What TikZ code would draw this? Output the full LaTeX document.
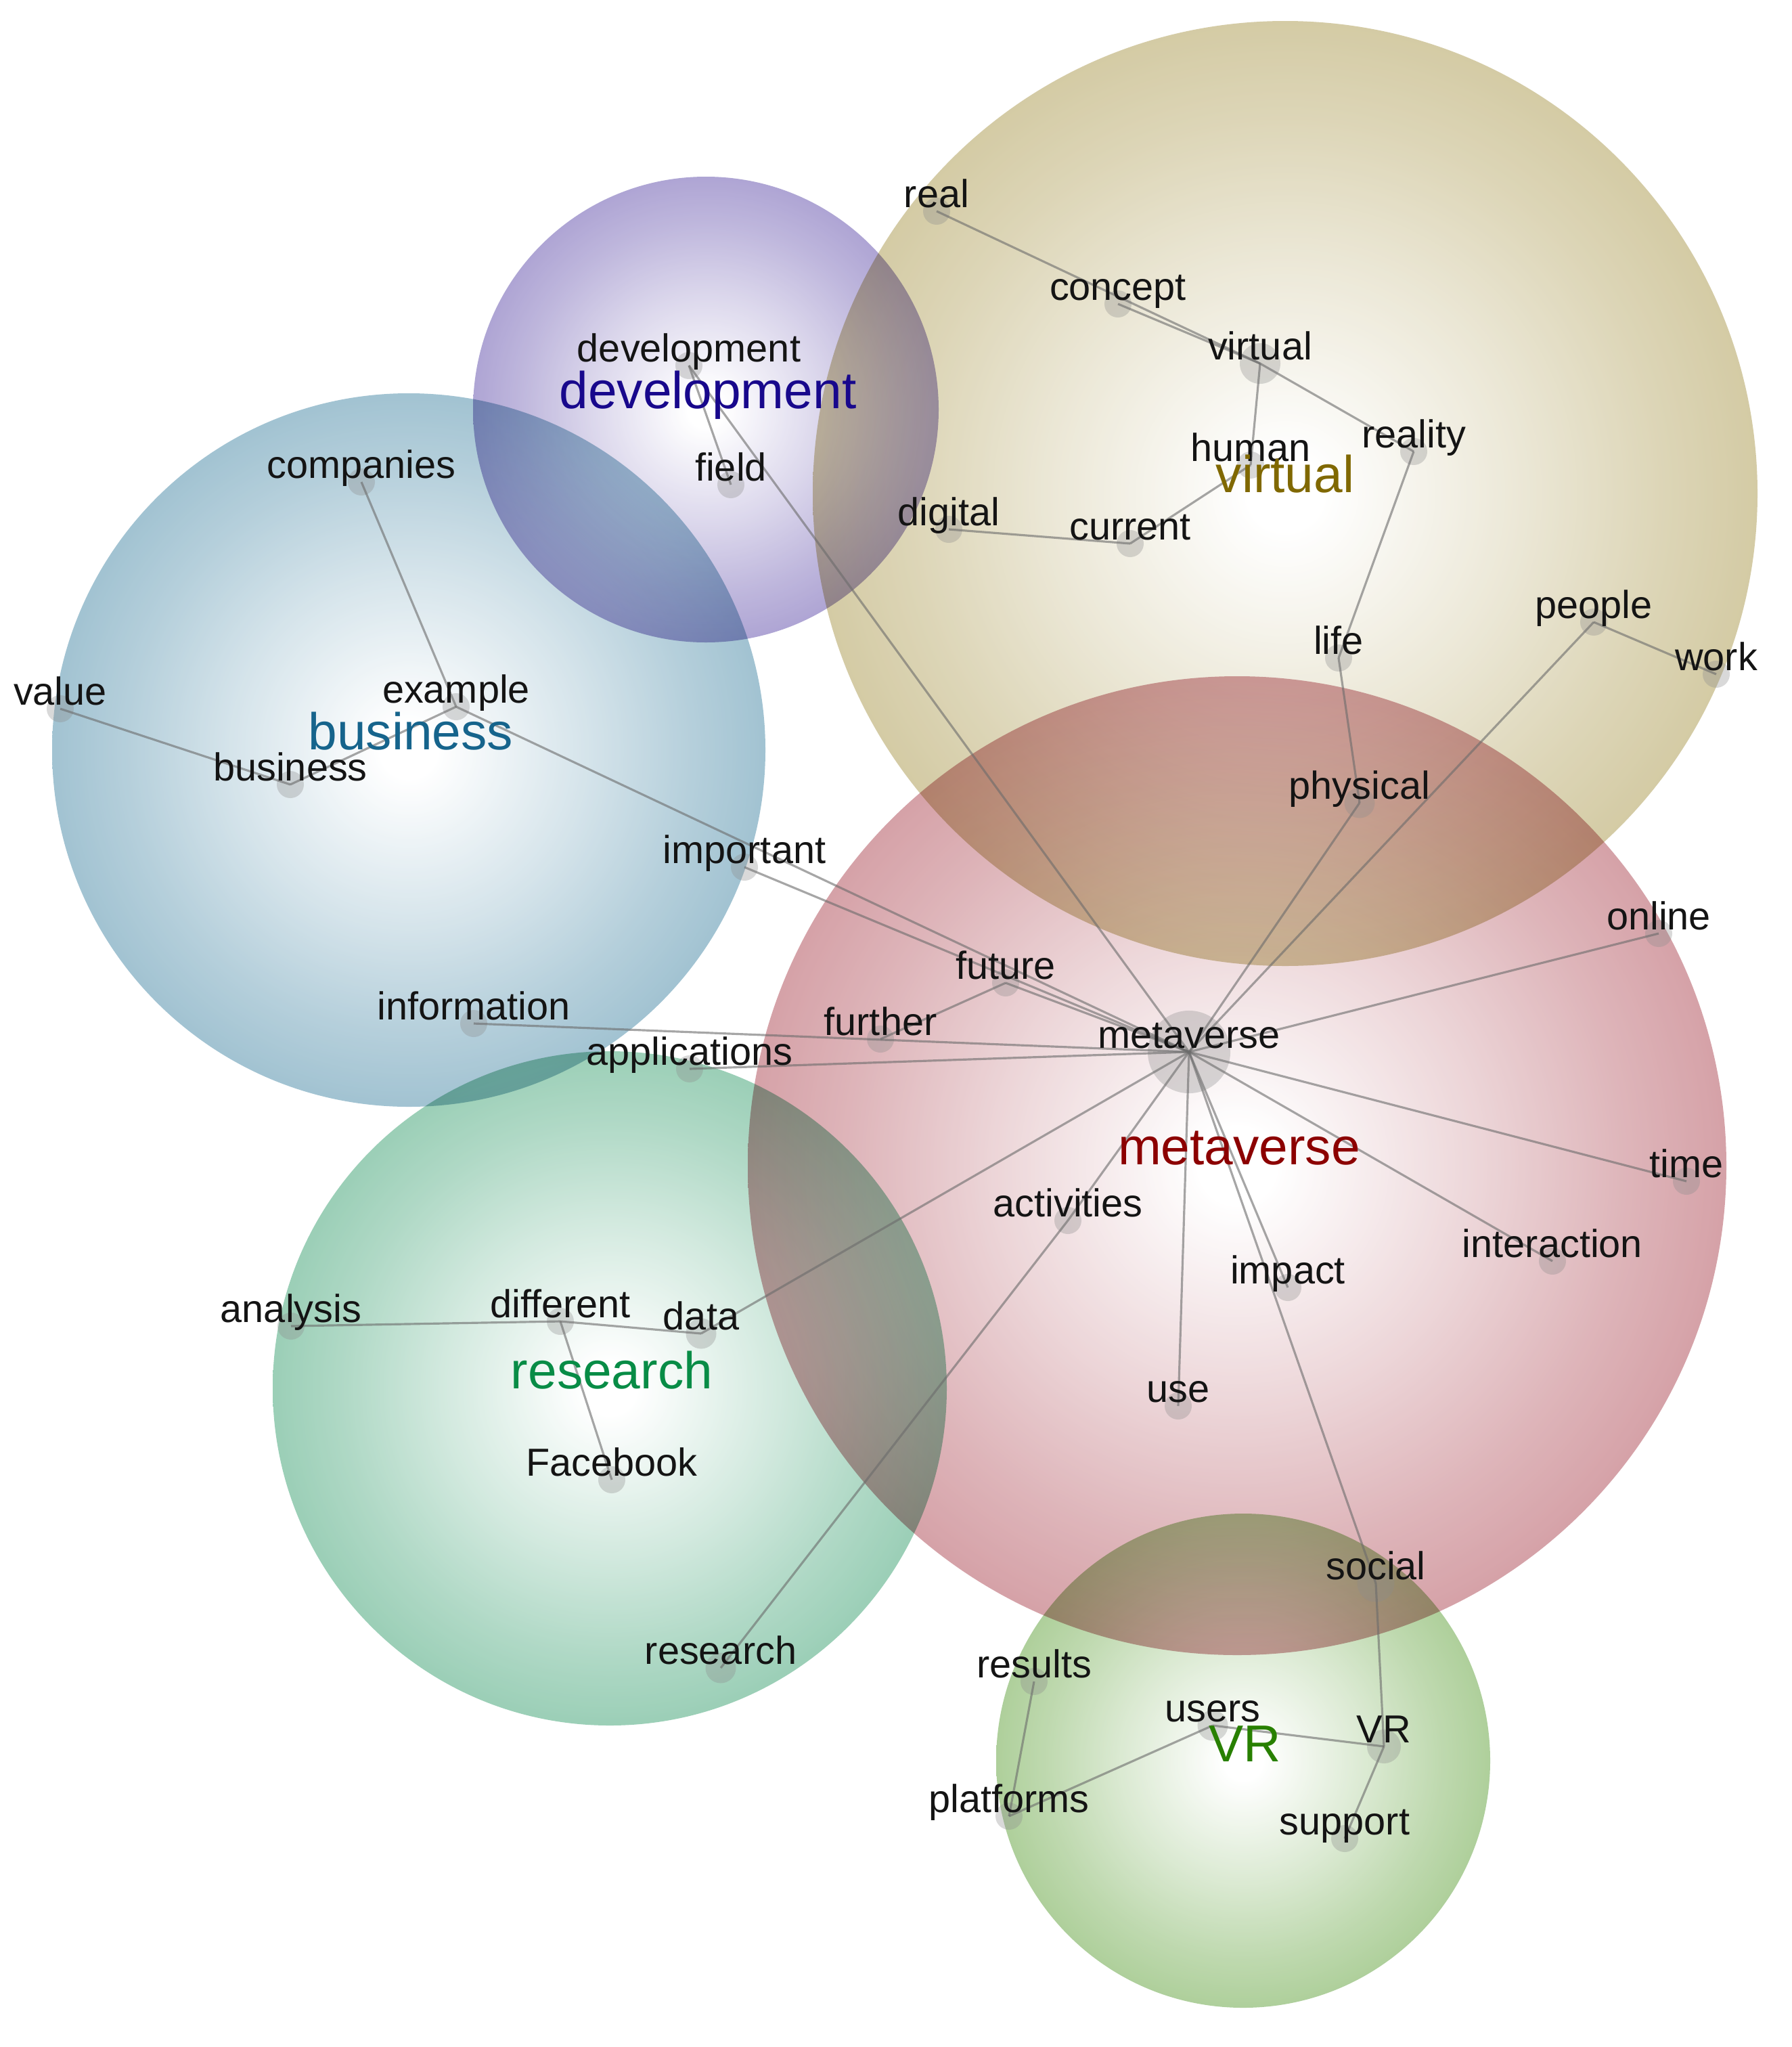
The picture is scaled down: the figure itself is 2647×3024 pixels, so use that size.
\documentclass[tikz,border=0pt]{standalone}
\usepackage{fontspec}
\setmainfont{Liberation Sans}
\definecolor{cvirt}{RGB}{198,186,135}
\definecolor{cdev}{RGB}{148,135,198}
\definecolor{cbus}{RGB}{131,175,195}
\definecolor{cmeta}{RGB}{200,131,139}
\definecolor{cres}{RGB}{122,191,159}
\definecolor{cvr}{RGB}{148,192,122}
\definecolor{tvirt}{RGB}{128,104,0}
\definecolor{tdev}{RGB}{24,8,140}
\definecolor{tbus}{RGB}{22,100,140}
\definecolor{tmeta}{RGB}{140,0,0}
\definecolor{tres}{RGB}{8,140,70}
\definecolor{tvr}{RGB}{40,128,0}
\newcommand{\mkshade}[2]{\pgfdeclareradialshading{#1}{\pgfpoint{0bp}{0bp}}{color(0bp)=(white); color(2bp)=(white); color(12.5bp)=(#2!45!white); color(20bp)=(#2!80!white); color(25bp)=(#2); color(50bp)=(#2)}}
\mkshade{shvirt}{cvirt}
\mkshade{shdev}{cdev}
\mkshade{shbus}{cbus}
\mkshade{shmeta}{cmeta}
\mkshade{shres}{cres}
\mkshade{shvr}{cvr}
\tikzset{
  dotnode/.style={circle, fill=black!45, fill opacity=0.33, draw=none, inner sep=0pt, minimum size=#1 cm},
  dotnode/.default=0.4,
  lbl/.style={anchor=base, inner sep=0pt, font=\fontsize{16.4}{18}\selectfont, text=black!92},
  biglbl/.style={anchor=base, inner sep=0pt, font=\fontsize{21.8}{24}\selectfont},
  link/.style={draw=black!58, draw opacity=0.6, line width=0.9pt},
  cluster/.style={blend mode=multiply, fill opacity=0.75}
}
\begin{document}
\begin{tikzpicture}[x=0.01cm, y=0.01cm]
\useasboundingbox (0,0) rectangle (2647,-3024);
\fill[white] (0,0) rectangle (2647,-3024);
% clusters
\shade[cluster, shading=shvirt] (1899,-729) circle (698);
\shade[cluster, shading=shdev] (1043,-605) circle (344);
\shade[cluster, shading=shbus] (604,-1108) circle (527);
\shade[cluster, shading=shmeta] (1828,-1722) circle (723);
\shade[cluster, shading=shres] (901,-2051) circle (498);
\shade[cluster, shading=shvr] (1837,-2601) circle (365);
% dots
\foreach \n/\x/\y/\s in {
  real/1384/312/0.4, concept/1652/449/0.4, virtual/1862/537/0.6, reality/2089/667/0.4,
  human/1848/687/0.4, current/1670/803/0.4, digital/1402/782/0.4, life/1978/972/0.4,
  people/2355/919/0.4, work/2536/996/0.4, physical/2009/1186/0.45,
  development/1018/540/0.4, field/1080/716/0.4,
  companies/534/712/0.4, example/674/1044/0.4, value/89/1047/0.4, business/429/1159/0.4,
  important/1100/1281/0.4, future/1486/1452/0.4, further/1301/1535/0.4,
  information/700/1512/0.4, applications/1019/1579/0.4, metaverse/1757/1554/1.22,
  online/2451/1379/0.4, time/2492/1745/0.4, interaction/2294/1863/0.4,
  activities/1578/1803/0.4, impact/1903/1902/0.4, use/1741/2077/0.4,
  analysis/430/1959/0.4, different/828/1952/0.4, data/1036/1970/0.45,
  Facebook/904/2186/0.4, research/1065/2464/0.45,
  social/2033/2339/0.55, results/1528/2484/0.4, users/1792/2549/0.45,
  VR/2045/2580/0.5, platforms/1491/2683/0.4, support/1987/2716/0.4}
  {\node[dotnode=\s] (d-\n) at (\x,-\y) {};}
% links
\foreach \a/\b in {
  real/virtual, concept/virtual, virtual/human, virtual/reality, human/current,
  digital/current, reality/life, life/physical, physical/metaverse,
  people/work, people/metaverse, development/field, development/metaverse,
  companies/example, value/business, business/example, example/metaverse,
  important/metaverse, future/metaverse, further/future, information/metaverse,
  applications/metaverse, online/metaverse, time/metaverse, interaction/metaverse,
  impact/metaverse, social/metaverse, use/metaverse, activities/metaverse,
  research/activities, data/metaverse, analysis/different, different/data,
  different/Facebook, results/platforms, platforms/users, users/VR,
  VR/support, VR/social}
  {\draw[link] (d-\a.center) -- (d-\b.center);}
% word labels
\foreach \n/\x/\y in {
  real/1384/312, concept/1652/449, virtual/1862/537, reality/2089/667,
  human/1848/687, current/1670/803, digital/1402/782, life/1978/972,
  people/2355/919, work/2536/996, physical/2009/1186,
  development/1018/540, field/1080/716,
  companies/534/712, example/674/1044, value/89/1047, business/429/1159,
  important/1100/1281, future/1486/1452, further/1301/1535,
  information/700/1512, applications/1019/1579, metaverse/1757/1554,
  online/2451/1379, time/2492/1745, interaction/2294/1863,
  activities/1578/1803, impact/1903/1902, use/1741/2077,
  analysis/430/1959, different/828/1952, data/1036/1970,
  Facebook/904/2186, research/1065/2464,
  social/2033/2339, results/1528/2484, users/1792/2549,
  VR/2045/2580, platforms/1491/2683, support/1987/2716}
  {\node[lbl] (l-\n) at (\x,-\y+6) {\n};}
% cluster labels
\node[biglbl, text=tvirt] (c-virtual) at (1899,-727) {virtual};
\node[biglbl, text=tdev] (c-development) at (1046,-603) {development};
\node[biglbl, text=tbus] (c-business) at (607,-1107) {business};
\node[biglbl, text=tmeta] (c-metaverse) at (1831,-1720) {metaverse};
\node[biglbl, text=tres] (c-research) at (904,-2051) {research};
\node[biglbl, text=tvr] (c-vr) at (1840,-2602) {VR};
\end{tikzpicture}
\end{document}
